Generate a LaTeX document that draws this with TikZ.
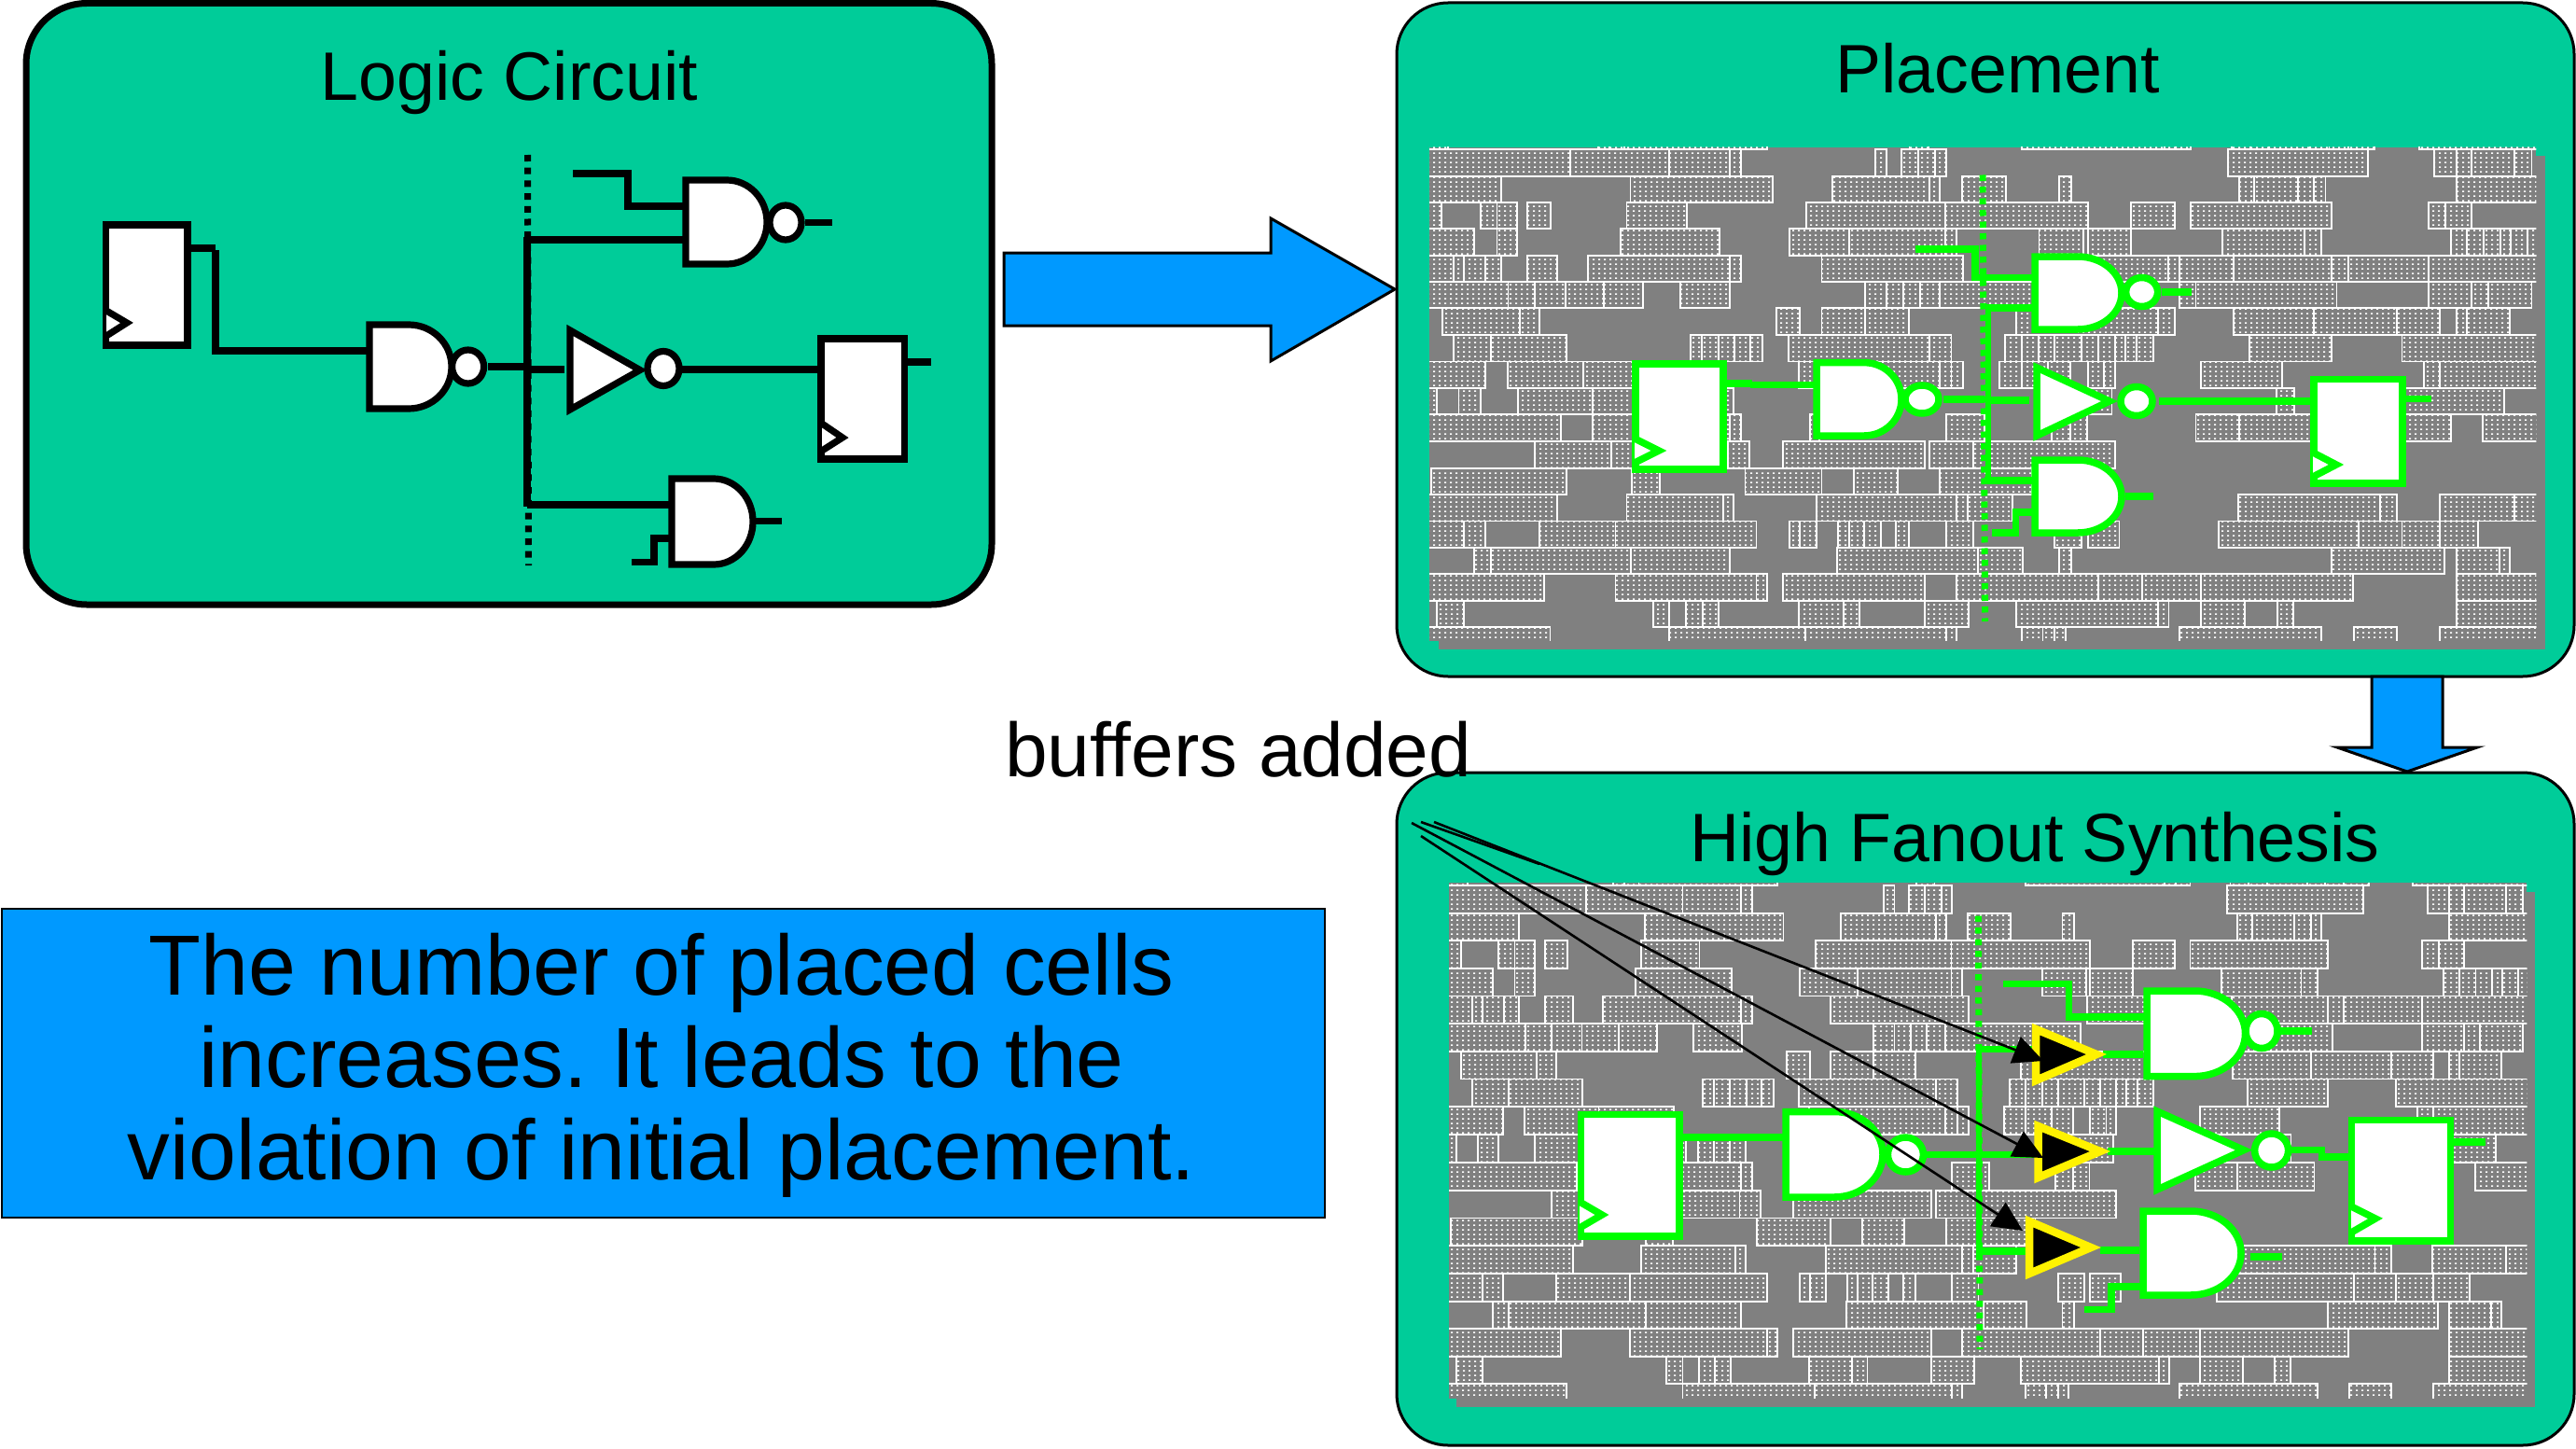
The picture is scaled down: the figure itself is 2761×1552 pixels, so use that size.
\documentclass[tikz,border=0pt]{standalone}
\usepackage{fontspec}
\setmainfont{Liberation Sans}
\usetikzlibrary{patterns,arrows.meta}
\definecolor{panelgreen}{HTML}{00CC99}
\definecolor{flowblue}{HTML}{0099FF}
\definecolor{wiregreen}{HTML}{00FF00}
\definecolor{chipgrey}{HTML}{808080}
\frenchspacing
\pgfdeclarepatternformonly{celldots}{\pgfpointorigin}{\pgfpoint{6.3pt}{5.2pt}}{\pgfpoint{6.3pt}{5.2pt}}{%
  \pgfpathrectangle{\pgfpointorigin}{\pgfpoint{2.3pt}{1.9pt}}\pgfusepath{fill}}
\tikzset{
  panelbox/.style={draw=black,fill=panelgreen,line width=3pt},
  flowarrow/.style={draw=black,fill=flowblue,line width=3pt,miter limit=10},
  cellbox/.style={draw=white,line width=1.9pt,pattern=celldots,pattern color=white},
  title/.style={font=\fontsize{73.5pt}{80pt}\selectfont,inner sep=0pt,anchor=base},
  blk/.style={draw=black,line width=7.2pt},
  blkfill/.style={blk,fill=white},
  grn/.style={draw=wiregreen,line width=7.5pt},
  grnfill/.style={grn,fill=white},
  grnbus/.style={draw=wiregreen,line width=6.5pt},
  blkdots/.style={draw=black,line width=7pt,dash pattern=on 7pt off 6.7pt},
  grndots/.style={draw=wiregreen,line width=7pt,dash pattern=on 6.5pt off 6pt},
  bufgate/.style={draw=yellow,fill=black,line width=8.5pt,miter limit=10},
  pointer/.style={draw=black,line width=2.6pt,-{Triangle[length=32pt,width=30pt]}},
  pointerline/.style={draw=black,line width=2.6pt},
}
% style, x0, ytop, ybottom, xmid, xright
\newcommand\rkgate[6]{%
  \pgfmathsetmacro\rkym{(#3+#4)/2}%
  \pgfmathsetmacro\rkcx{#5+.5523*(#6-#5)}%
  \pgfmathsetmacro\rkca{\rkym-.5523*(\rkym-#3)}%
  \pgfmathsetmacro\rkcb{\rkym+.5523*(\rkym-#3)}%
  \draw[#1] (#2,#3) -- (#5,#3) .. controls (\rkcx,#3) and (#6,\rkca) .. (#6,\rkym)
    .. controls (#6,\rkcb) and (\rkcx,#4) .. (#5,#4) -- (#2,#4) -- cycle;}
\newcommand\cellrow[3]{\foreach \a/\c in {#3}{\draw[cellbox] (\a,#1) rectangle (\c,#2);}}
\newcommand\cellfield{%
\cellrow{-50}{28}{0/65,265/280,280/300,300/490,680/705,830/1020,1020/1035,1035/1055,1110/1135,1135/1160,1160/1215,1215/1240,1240/1265,1265/1300,1360/1600}%
\cellrow{28}{108}{0/228,228/360,360/440,440/455,635/650,670/692,692/714,714/729,1105/1292,1380/1410,1410/1430,1430/1487,1487/1510}%
\cellrow{108}{187}{0/136,308/498,577/707,707/721,750/809,880/896,1120/1140,1140/1198,1198/1220,1220/1235,1410/1600}%
\cellrow{187}{266}{0/56,108/130,130/157,171/202,303/383,542/728,728/918,976/1034,1055/1243,1372/1395,1395/1430}%
\cellrow{266}{346}{0/100,130/157,295/427,520/600,600/728,728/743,853/912,918/976,1098/1207,1207/1229,1402/1424,1424/1446,1446/1468,1468/1482,1482/1504,1504/1600}%
\cellrow{346}{426}{0/72,72/86,86/115,115/136,171/210,251/440,440/455,563/752,914/1025,1025/1040,1040/1112,1112/1243,1243/1265,1265/1372,1372/1600}%
\cellrow{426}{505}{0/145,145/180,180/222,222/272,272/325,375/441,621/650,650/672,672/694,694/720,720/905,1040/1062,1062/1250,1372/1430,1430/1452,1452/1510}%
\cellrow{505}{585}{57/160,160/187,503/534,563/621,621/679,823/1012,1012/1034,1113/1220,1220/1330,1330/1388,1410/1424,1424/1481}%
\cellrow{585}{665}{72/122,122/223,388/403,403/425,425/447,447/468,468/484,519/707,707/736,808/830,830/852,852/874,874/910,910/932,932/954,954/968,968/983,983/1005,1134/1243,1337/1600}%
\cellrow{665}{745}{0/114,144/245,245/348,533/720,720/736,736/752,800/830,830/865,865/895,918/940,940/954,1069/1177,1366/1388,1388/1600}%
\cellrow{745}{824}{0/50,79/108,158/258,258/365,381/403,403/425,425/446,860/950,1170/1193,1342/1473}%
\cellrow{824}{905}{0/215,258/440,440/455,548/560,729/780,870/895,895/917,1062/1120,1120/1225,1340/1402,1445/1600}%
\cellrow{905}{985}{180/282,282/438,438/467,511/701,707/765,765/954}%
\cellrow{985}{1064}{42/223,310/347,461/563,606/664,721/843}%
\cellrow{1064}{1144}{0/210,303/432,432/446,556/743,743/758,758/817,1119/1308,1308/1330,1387/1487,1487/1600}%
\cellrow{1144}{1224}{0/86,86/114,187/288,288/476,520/534,534/556,585/600,600/620,620/642,662/679,729/765,874/910,918/960,1092/1279,1279/1337,1337/1388,1388/1438}%
\cellrow{1224}{1303}{100/122,122/309,309/440,584/772,772/831,880/896,1243/1394,1410/1467,1467/1481}%
\cellrow{1303}{1383}{0/193,288/476,476/490,511/701,743/932,932/990,990/1069,1069/1272,1410/1600}%
\cellrow{1383}{1461}{50/86,338/360,382/404,404/426,533/592,592/613,701/759,823/1012,1012/1026,1069/1127,1171/1192,1410/1600}%
\cellrow{1461}{1600}{0/201,360/541,541/729,729/743,830/858,858/874,874/888,1040/1229,1273/1330,1388/1600}%
}
\begin{document}
\begin{tikzpicture}[x=1pt,y=-1pt]
\useasboundingbox (0,0) rectangle (2761,1552);
\fill[white] (0,0) rectangle (2761,1552);

% ---- panels
\draw[panelbox,line width=7pt,rounded corners=65pt] (28,3.5) rectangle (1063,648);
\draw[panelbox,rounded corners=55pt] (1497,3) rectangle (2759,725);
\draw[panelbox,rounded corners=55pt] (1497,828) rectangle (2759,1549);

% ---- chip backgrounds
\fill[chipgrey] (1542,167) rectangle (2728,696);
\fill[chipgrey] (1532,158) rectangle (2718,687);
\begin{scope}[shift={(1500,150)},x=0.8036pt,y=-0.3571pt]
  \clip (40,22) rectangle (1516,1503);
  \cellfield
\end{scope}
\fill[chipgrey] (1561,956) rectangle (2717,1508);
\fill[chipgrey] (1553,946) rectangle (2708,1499);
\begin{scope}[shift={(1521.7,938.6)},x=0.7827pt,y=-0.3725pt]
  \clip (40,20) rectangle (1516,1503);
  \cellfield
\end{scope}

% ---- titles
\node[title] (logictitle) at (546,108) {Logic Circuit};
\node[title] (placetitle) at (2141,100) {Placement};
\node[title] (hfstitle) at (2181,923) {High Fanout Synthesis};

% ---- flow arrows
\draw[flowarrow] (1076,271) -- (1362,271) -- (1362,234) -- (1495,310) -- (1362,387) -- (1362,349) -- (1076,349) -- cycle;
\draw[flowarrow] (2542,725) -- (2618,725) -- (2618,801) -- (2655,801) -- (2580,827) -- (2505,801) -- (2542,801) -- cycle;

% ---- blue note
\draw[draw=black,fill=flowblue,line width=2pt] (2,974) rectangle (1420,1305);
\node[inner sep=0pt,align=center,font=\fontsize{91.5pt}{99pt}\selectfont] (note) at (709,1142)
  {The number of placed cells\\increases. It leads to the\\violation of initial placement.};
\node[inner sep=0pt,anchor=base west,font=\fontsize{82pt}{88pt}\selectfont] (buffers) at (1077,832) {buffers added};

% ---- logic circuit
\draw[blkdots] (565.5,166) -- (566.5,606);
\draw[blk] (565,254) -- (565,543);
\draw[blk] (201,266) -- (231,266);
\draw[blk] (231,268) -- (231,376) -- (396,376);
\draw[blk] (523,393) -- (561,393);
\draw[blk] (561,396) -- (605,396);
\draw[blk] (614,186) -- (673,186) -- (673,221) -- (735,221);
\draw[blk] (565,257) -- (735,257);
\draw[blk] (863,238.5) -- (892,238.5);
\draw[blk] (731,396) -- (880,396);
\draw[blk] (969,388) -- (997.5,388);
\draw[blk] (565,541) -- (720,541);
\draw[blk] (677,602.5) -- (701,602.5) -- (701,577) -- (720,577);
\draw[blk] (807,558.5) -- (838,558.5);
\draw[blkfill] (113.6,241) rectangle (201,370);
\draw[blk,fill=white] (114,333) -- (136,346) -- (114,360);
\draw[blkfill] (880,363) rectangle (969.5,492);
\draw[blk,fill=white] (881,454) -- (903,469) -- (881,483);
\rkgate{blkfill}{396}{348}{438}{438}{484}
\draw[blkfill] (501.6,393) ellipse [x radius=17,y radius=18];
\rkgate{blkfill}{735}{193}{283}{779}{822}
\draw[blkfill] (842,238.5) ellipse [x radius=17,y radius=18.5];
\draw[blkfill] (611,354) -- (686,396.6) -- (611,439) -- cycle;
\draw[blkfill] (711,395) ellipse [x radius=17,y radius=18.5];
\rkgate{blkfill}{720}{513}{605}{765}{807}

% ---- placement circuit
\draw[grndots] (2125,187.5) -- (2127.6,666);
\draw[grnbus] (2131,330) -- (2131,516);
\draw[grn] (1851,411) -- (1878,411);
\draw[grn] (1876,412.5) -- (1947,412.5);
\draw[grn] (2083,428) -- (2127,428);
\draw[grn] (2128,330) -- (2181,330);
\draw[grn] (2053,267) -- (2117,267) -- (2117,297.5) -- (2181,297.5);
\draw[grn] (2317,313) -- (2349,313);
\draw[grn] (2128,429) -- (2175,429);
\draw[grn] (2314,430) -- (2484,430);
\draw[grn] (2578,427.5) -- (2606,427.5);
\draw[grn] (2127,515) -- (2181,515);
\draw[grn] (2135,571) -- (2160.5,571) -- (2160.5,549) -- (2181,549);
\draw[grn] (2278,532) -- (2308,532);
\draw[grnfill] (1753,390) rectangle (1847,503);
\draw[grn,fill=white] (1752,470) -- (1778,483) -- (1752,496);
\rkgate{grnfill}{1947}{388.6}{467}{1998}{2038}
\draw[grnfill] (2060,428) ellipse [x radius=18,y radius=15];
\rkgate{grnfill}{2181}{275}{353}{2227}{2274}
\draw[grnfill] (2295.6,313) ellipse [x radius=17,y radius=15.5];
\draw[grnfill] (2183,394) -- (2261,430) -- (2183,467) -- cycle;
\draw[grnfill] (2290,430) ellipse [x radius=17,y radius=15.5];
\draw[grnfill] (2480,406.4) rectangle (2575,518);
\draw[grn,fill=white] (2479,485) -- (2504,498) -- (2479,511);
\rkgate{grnfill}{2181}{493}{571}{2227}{2274}

% ---- high fanout circuit
\draw[grndots] (2120.4,981.7) -- (2122,1446);
\draw[grnbus] (2121,1124.5) -- (2121,1341);
\draw[grn] (1804,1219) -- (1914,1219);
\draw[grn] (2065,1237.5) -- (2187,1237.5);
\draw[grn] (2118,1124.5) -- (2181,1124.5);
\draw[grn] (2118,1341) -- (2175,1341);
\draw[grn] (2147,1054.5) -- (2217.6,1054.5) -- (2217.6,1090) -- (2301,1090);
\draw[grn] (2254,1130) -- (2297,1130);
\draw[grn] (2444,1105) -- (2478,1105);
\draw[grn] (2259,1234) -- (2312,1234);
\draw[grn] (2456,1232.6) -- (2488.5,1232.6) -- (2488.5,1240) -- (2524.6,1240);
\draw[grn] (2630,1224) -- (2663.6,1224);
\draw[grn] (2251,1340) -- (2293,1340);
\draw[grn] (2233.7,1403.6) -- (2263,1403.6) -- (2263,1379) -- (2297,1379);
\draw[grn] (2412,1347) -- (2446,1347);
\draw[grnfill] (1694.5,1194.6) rectangle (1800,1325);
\draw[grn,fill=white] (1693,1288) -- (1717,1302) -- (1693,1316);
\rkgate{grnfill}{1914}{1191.5}{1283}{1966}{2018}
\draw[grnfill] (2042.4,1237.5) ellipse [x radius=19,y radius=18.5];
\rkgate{grnfill}{2301}{1062}{1153.6}{2352}{2406.5}
\draw[grnfill] (2424,1105) ellipse [x radius=17,y radius=18.5];
\draw[grnfill] (2312,1191) -- (2405,1232.6) -- (2312,1275) -- cycle;
\draw[grnfill] (2434.6,1233) ellipse [x radius=18,y radius=18];
\draw[grnfill] (2520.6,1200.4) rectangle (2626.6,1330);
\draw[grn,fill=white] (2520,1293) -- (2546,1306) -- (2520,1321);
\rkgate{grnfill}{2297}{1298}{1388}{2348}{2402}

% ---- buffers
\draw[bufgate] (2182,1103) -- (2247,1130) -- (2182,1158) -- cycle;
\draw[bufgate] (2184.5,1207) -- (2251,1234) -- (2184.5,1262) -- cycle;
\draw[bufgate] (2175,1309) -- (2241,1337) -- (2175,1365) -- cycle;

% ---- pointers
\coordinate (ptrA) at (1537,881);
\coordinate (ptrB) at (1513,882);
\coordinate (ptrC) at (1523,896);
\coordinate (ptrD) at (1523,881);
\coordinate (ptrJoin) at (1650,926);
\draw[pointer] (ptrA) -- (2190,1137);
\draw[pointer] (ptrB) -- (2190,1241);
\draw[pointer] (ptrC) -- (2168,1319);
\draw[pointerline] (ptrD) -- (ptrJoin);
\end{tikzpicture}
\end{document}
